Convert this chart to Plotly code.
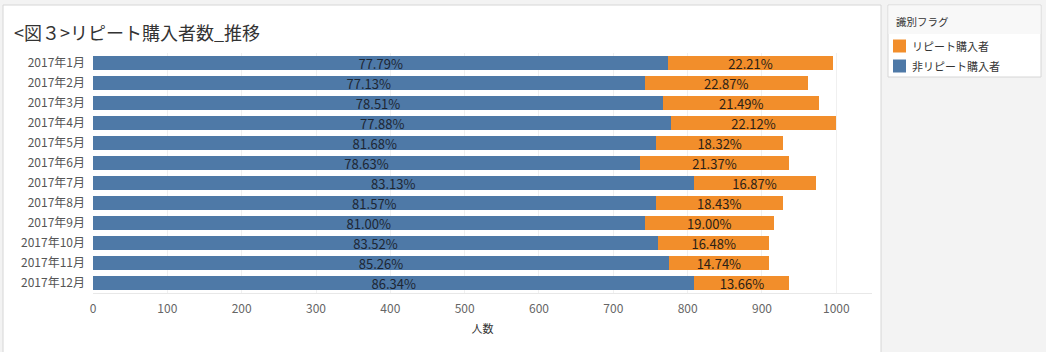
import plotly.graph_objects as go

months = ["2017年1月", "2017年2月", "2017年3月", "2017年4月", "2017年5月", "2017年6月",
          "2017年7月", "2017年8月", "2017年9月", "2017年10月", "2017年11月", "2017年12月"]
non_repeat = [774, 742, 767, 778, 758, 736, 808, 757, 742, 760, 775, 809]
repeat = [221, 220, 210, 221, 170, 200, 164, 171, 174, 150, 134, 128]
x_ticks = [0, 100, 200, 300, 400, 500, 600, 700, 800, 900, 1000]
series_names = ["非リピート購入者", "リピート購入者"]
series_colors = ["#4e79a7", "#f28e2b"]

totals = [a + b for a, b in zip(non_repeat, repeat)]
non_pct = [f"{a / t * 100:.2f}%" for a, t in zip(non_repeat, totals)]
rep_pct = [f"{b / t * 100:.2f}%" for b, t in zip(repeat, totals)]

FONT = "Noto Sans CJK JP, Noto Sans, sans-serif"
W, H = 1046, 352
L, R, T, B = 93, 872, 53, 293

def px(xp):
    return (xp - L) / (R - L)

def py(yp):
    return (B - yp) / (B - T)

fig = go.Figure()
fig.add_trace(go.Bar(
    y=months, x=non_repeat, orientation="h", name=series_names[0],
    marker=dict(color=series_colors[0], line=dict(width=0)),
    text=non_pct, textposition="inside", insidetextanchor="middle",
    textfont=dict(family=FONT, size=13, color="#1d2633"),
    hoverinfo="skip",
))
fig.add_trace(go.Bar(
    y=months, x=repeat, orientation="h", name=series_names[1],
    marker=dict(color=series_colors[1], line=dict(width=0)),
    text=rep_pct, textposition="inside", insidetextanchor="middle",
    textfont=dict(family=FONT, size=13, color="#2b2116"),
    hoverinfo="skip",
))

shapes = [
    dict(type="rect", xref="paper", yref="paper", x0=px(3), x1=px(881), y0=py(5), y1=py(360),
         fillcolor="white", line=dict(color="#d6d6d6", width=1), layer="below"),
    dict(type="rect", xref="paper", yref="paper", x0=px(888), x1=px(1041), y0=py(5), y1=py(77),
         fillcolor="white", line=dict(color="#d6d6d6", width=1), layer="below"),
    dict(type="rect", xref="paper", yref="paper", x0=px(888.5), x1=px(1040.5), y0=py(5.5), y1=py(34),
         fillcolor="#f8f8f8", line=dict(width=0), layer="below"),
]
annotations = [
    dict(text="<図３>リピート購入者数_推移", xref="paper", yref="paper",
         x=px(12), y=py(32), xanchor="left", yanchor="middle", showarrow=False,
         font=dict(family=FONT, size=18, color="#333333")),
    dict(text="識別フラグ", xref="paper", yref="paper",
         x=px(894), y=py(21), xanchor="left", yanchor="middle", showarrow=False,
         font=dict(family=FONT, size=10.5, color="#333333")),
]

legend_order = [1, 0]
for i, k in enumerate(legend_order):
    yc = 46 + i * 20
    shapes.append(dict(type="rect", xref="paper", yref="paper",
                       x0=px(893), x1=px(906), y0=py(yc - 6.5), y1=py(yc + 6.5),
                       fillcolor=series_colors[k], line=dict(width=0), layer="above"))
    annotations.append(dict(text=series_names[k], xref="paper", yref="paper",
                            x=px(910), y=py(yc), xanchor="left", yanchor="middle",
                            showarrow=False,
                            font=dict(family=FONT, size=11, color="#333333")))

fig.update_layout(
    width=W, height=H,
    margin=dict(l=L, r=W - R, t=T, b=H - B, pad=0),
    paper_bgcolor="#f3f3f3", plot_bgcolor="white",
    barmode="stack", bargap=0.27,
    font=dict(family=FONT, color="#555555", size=12),
    uniformtext=dict(mode="show", minsize=12),
    shapes=shapes,
    annotations=annotations,
    showlegend=False,
    xaxis=dict(
        range=[0, 1048], tickvals=x_ticks, ticktext=[str(v) for v in x_ticks],
        showgrid=True, gridcolor="#f0f0f0", gridwidth=1,
        zeroline=False, showline=True, linecolor="#e8e8e8", linewidth=1,
        ticks="", ticklabelstandoff=5,
        tickfont=dict(family=FONT, size=12, color="#666666"),
        title=dict(text="人数", font=dict(family=FONT, size=11, color="#333333"), standoff=9),
        fixedrange=True,
    ),
    yaxis=dict(
        categoryorder="array", categoryarray=months, autorange="reversed",
        showgrid=False, zeroline=False, showline=False, ticks="",
        ticklabelstandoff=7,
        tickfont=dict(family=FONT, size=12, color="#555555"),
        fixedrange=True,
    ),
)

fig.write_html("out.html")
